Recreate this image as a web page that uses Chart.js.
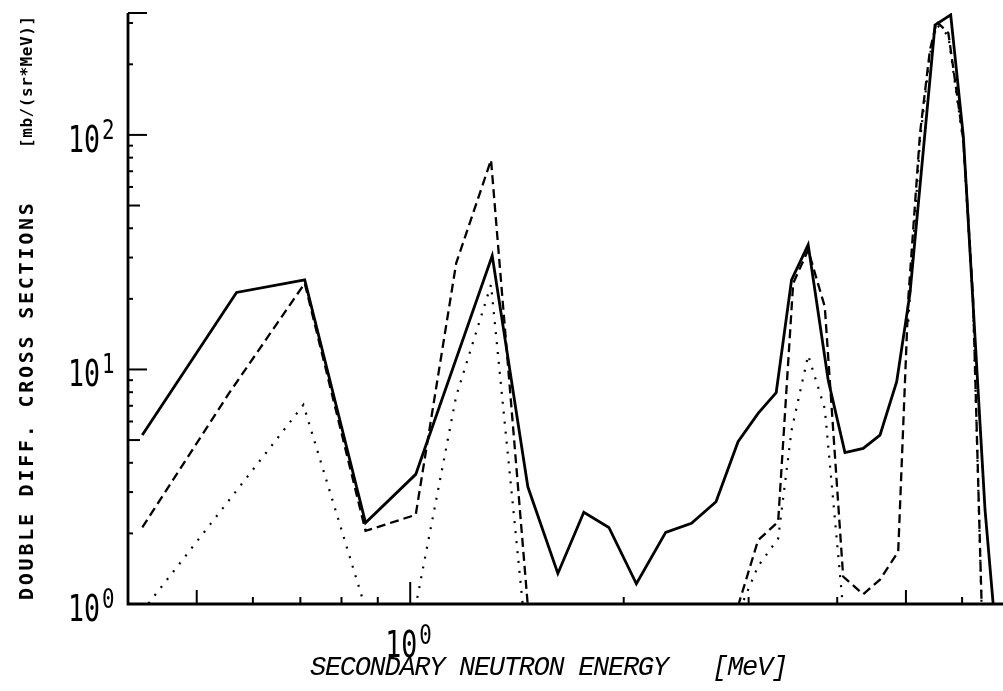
<!DOCTYPE html>
<html>
<head>
<meta charset="utf-8">
<script src="https://cdn.jsdelivr.net/npm/chart.js@4.4.1/dist/chart.umd.min.js"></script>
<style>
html,body{margin:0;padding:0;background:#fff;}
canvas{display:block;}
</style>
</head>
<body>
<canvas id="c" width="1003" height="691"></canvas>
<script>
// ---- data (energy in MeV, cross section in mb/(sr*MeV)) ----
const solidE  = [0.419, 0.569, 0.710, 0.865, 1.018, 1.305, 1.465, 1.615, 1.757, 1.906, 2.084, 2.292, 2.492, 2.699, 2.899, 3.094, 3.281, 3.449, 3.640, 3.885, 4.102, 4.352, 4.596, 4.852, 5.066, 5.495, 5.782, 6.025, 6.464, 6.641];
const solidV  = [5.26, 21.3, 24.1, 2.22, 3.57, 30.5, 3.16, 1.35, 2.46, 2.12, 1.22, 2.02, 2.21, 2.73, 4.92, 6.5, 7.97, 24.1, 34.0, 9.0, 4.42, 4.61, 5.25, 8.87, 21.1, 294, 325, 98, 2.52, 0.98];

const dashedE = [0.419, 0.555, 0.710, 0.865, 1.018, 1.161, 1.300, 1.465, 2.084, 2.899, 3.094, 3.302, 3.467, 3.640, 3.842, 4.078, 4.352, 4.596, 4.876, 5.038, 5.234, 5.405, 5.526, 5.738, 6.025, 6.218, 6.394];
const dashedV = [2.12, 7.9, 23.3, 2.05, 2.4, 28.4, 78.2, 0.98, null, 0.98, 1.87, 2.24, 23.3, 32.3, 18.5, 1.31, 1.10, 1.27, 1.67, 20, 101.7, 230, 304, 272, 95, 20, 0.97];

const dottedE = [0.419, 0.707, 0.861, 1.018, 1.161, 1.300, 1.465, 2.084, 2.916, 3.094, 3.302, 3.449, 3.640, 3.842, 4.078, 4.596, 5.038, 5.234, 5.405, 5.526, 5.738, 6.025, 6.218, 6.394];
const dottedV = [0.93, 7.06, 1.0, 0.98, 7.7, 23, 0.6, null, 0.95, 1.45, 1.9, 5.5, 11.5, 6.8, 0.95, null, 16, 95, 220, 295, 265, 92, 19, 0.95];

// ---- axes / ticks / labels ----
const xMin = 0.4, xMax = 6.83, yMin = 1, yMax = 331;
const xTickValues = [0.5, 0.6, 0.7, 0.8, 0.9, 1, 2, 3, 4, 5, 6];
const yTickValues = [2, 3, 4, 5, 6, 7, 8, 9, 10, 20, 30, 40, 50, 60, 70, 80, 90, 100, 200, 300, 331];
const yLabelValues = [1, 10, 100];
const yLabelExps = ['0', '1', '2'];
const xLabelValues = [1];
const xLabelExps = ['0'];
const xTitle = 'SECONDARY NEUTRON ENERGY   [MeV]';
const yTitle = 'DOUBLE DIFF. CROSS SECTIONS';
const yUnits = '[mb/(sr*MeV)]';

function pts(E, V) { return E.map((e, i) => ({x: e, y: V[i]})); }

function tickKind(v, isMax) {
  if (isMax) return 'long';
  const p = Math.pow(10, Math.floor(Math.log10(v) + 1e-9));
  const m = Math.round(v / p);
  if (m === 1) return 'long';
  if (m === 5) return 'mid';
  return 'short';
}

function drawPow(ctx, xLeft, base, exp) {
  ctx.save();
  ctx.fillStyle = '#000';
  ctx.textBaseline = 'alphabetic';
  ctx.textAlign = 'left';
  ctx.translate(xLeft, base);
  ctx.scale(0.7, 1);
  ctx.font = '38px "DejaVu Sans Mono"';
  ctx.fillText('10', 0, 0);
  const w = ctx.measureText('10').width * 0.7;
  ctx.restore();
  ctx.save();
  ctx.fillStyle = '#000';
  ctx.translate(xLeft + w + 2, base - 13);
  ctx.scale(0.8, 1);
  ctx.font = '26px "DejaVu Sans Mono"';
  ctx.fillText(exp, 0, 0);
  ctx.restore();
  return w;
}

const axesPlugin = {
  id: 'plotterAxes',
  afterDraw(chart) {
    const ctx = chart.ctx;
    const xs = chart.scales.x, ys = chart.scales.y;
    const ca = chart.chartArea;
    ctx.save();
    ctx.strokeStyle = '#000';
    ctx.lineCap = 'butt';
    ctx.lineWidth = 2.8;
    ctx.beginPath();
    ctx.moveTo(ca.left, ys.getPixelForValue(yMax));
    ctx.lineTo(ca.left, ca.bottom);
    ctx.lineTo(1003, ca.bottom);
    ctx.stroke();
    ctx.lineWidth = 2;
    const yLen = {long: 19, mid: 12, short: 5};
    yTickValues.forEach(v => {
      const y = ys.getPixelForValue(v);
      const L = yLen[tickKind(v, v === yMax)];
      ctx.beginPath();
      ctx.moveTo(ca.left, y);
      ctx.lineTo(ca.left + L, y);
      ctx.stroke();
    });
    const xLen = {long: 22, mid: 14, short: 7};
    xTickValues.forEach(v => {
      const x = xs.getPixelForValue(v);
      const L = xLen[tickKind(v, false)];
      ctx.beginPath();
      ctx.moveTo(x, ca.bottom);
      ctx.lineTo(x, ca.bottom - L);
      ctx.stroke();
    });
    yLabelValues.forEach((v, i) => {
      const y = ys.getPixelForValue(v);
      drawPow(ctx, 68, y + 17, yLabelExps[i]);
    });
    xLabelValues.forEach((v, i) => {
      const x = xs.getPixelForValue(v);
      drawPow(ctx, x - 25, 657, xLabelExps[i]);
    });
    ctx.fillStyle = '#000';
    ctx.textAlign = 'left';
    ctx.textBaseline = 'alphabetic';
    ctx.font = 'italic 27px "Liberation Mono"';
    const xp = 14.9;
    for (let i = 0; i < xTitle.length; i++) {
      ctx.fillText(xTitle[i], 310 + i * xp, 675);
    }
    ctx.save();
    ctx.translate(28, 600);
    ctx.rotate(-Math.PI / 2);
    ctx.textBaseline = 'middle';
    ctx.font = 'bold 20px "DejaVu Sans Mono"';
    const yp = 14.8;
    for (let i = 0; i < yTitle.length; i++) {
      ctx.fillText(yTitle[i], i * yp, 0);
    }
    ctx.font = 'bold 16px "DejaVu Sans Mono"';
    const up = 10.2;
    for (let i = 0; i < yUnits.length; i++) {
      ctx.fillText(yUnits[i], 452 + i * up, 0);
    }
    ctx.restore();
    ctx.restore();
  }
};

new Chart(document.getElementById('c'), {
  type: 'line',
  data: {
    datasets: [
      {data: pts(solidE, solidV), borderColor: '#000', borderWidth: 2.8, pointRadius: 0, tension: 0, fill: false},
      {data: pts(dashedE, dashedV), borderColor: '#000', borderWidth: 2.3, borderDash: [9, 5], pointRadius: 0, tension: 0, fill: false},
      {data: pts(dottedE, dottedV), borderColor: '#000', borderWidth: 2.2, borderDash: [2, 8], pointRadius: 0, tension: 0, fill: false}
    ]
  },
  options: {
    responsive: false,
    animation: false,
    devicePixelRatio: 1,
    spanGaps: false,
    layout: {padding: {left: 128, right: 1, top: 13, bottom: 87}},
    scales: {
      x: {type: 'logarithmic', min: xMin, max: xMax, display: false},
      y: {type: 'logarithmic', min: yMin, max: yMax, display: false}
    },
    plugins: {legend: {display: false}, tooltip: {enabled: false}}
  },
  plugins: [axesPlugin]
});
</script>
</body>
</html>
